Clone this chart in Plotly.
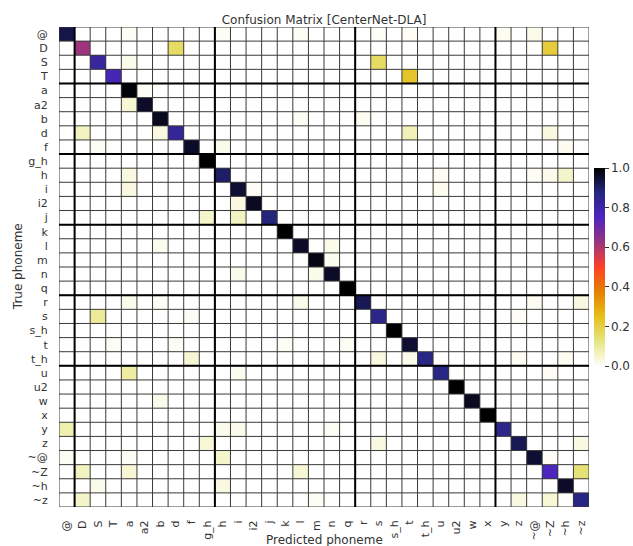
import plotly.graph_objects as go

labels = ["@", "D", "S", "T", "a", "a2", "b", "d", "f", "g_h", "h", "i", "i2", "j",
          "k", "l", "m", "n", "q", "r", "s", "s_h", "t", "t_h", "u", "u2", "w", "x",
          "y", "z", "~@", "~Z", "~h", "~z"]

diag_vals = [0.93, 0.62, 0.82, 0.77, 0.99, 0.96, 0.97, 0.83, 0.96, 1.0,
             0.90, 0.95, 0.97, 0.88, 1.0, 0.96, 0.98, 0.96, 1.0, 0.92,
             0.86, 1.0, 0.95, 0.87, 0.87, 1.0, 0.97, 1.0, 0.86, 0.92,
             0.95, 0.75, 0.96, 0.87]

# off-diagonal confusions: true label, predicted label, rate
off_true = ["@", "@", "@", "@", "@", "@", "@",
            "D", "D", "S", "S", "T", "a", "a2", "b", "b",
            "d", "d", "d", "d", "f", "f", "f",
            "h", "h", "h", "h", "h", "i", "i", "i", "i2", "j", "j",
            "l", "l", "m", "n", "n",
            "r", "r", "r", "r", "r", "s", "s", "s",
            "t", "t", "t", "t", "t_h", "t_h", "t_h", "t_h", "t_h",
            "u", "u", "u", "w", "y", "y", "y", "y", "z", "z", "z",
            "~@", "~@", "~@", "~@", "~Z", "~Z", "~Z", "~Z", "~h", "~h",
            "~z", "~z", "~z", "~z"]
off_pred = ["a", "h", "l", "s", "t", "y", "~@",
            "d", "~Z", "a", "s", "t", "a2", "a", "l", "r",
            "D", "b", "t", "~Z", "S", "h", "~h",
            "a", "u", "~@", "~Z", "~h", "a", "i2", "u", "i", "g_h", "i",
            "b", "n", "n", "i", "m",
            "a", "b", "l", "~@", "~z", "S", "f", "z",
            "T", "d", "k", "q", "f", "s", "t", "z", "~h",
            "a", "i", "~Z", "b", "@", "h", "i", "n", "g_h", "s", "~z",
            "@", "a", "h", "~Z", "D", "a", "l", "~z", "S", "h",
            "D", "m", "z", "~Z"]
off_vals = [0.01, 0.01, 0.01, 0.006, 0.01, 0.015, 0.02,
            0.16, 0.21, 0.02, 0.16, 0.23, 0.01, 0.04, 0.01, 0.015,
            0.06, 0.03, 0.07, 0.03, 0.01, 0.02, 0.015,
            0.03, 0.015, 0.01, 0.02, 0.05, 0.03, 0.01, 0.015, 0.03, 0.05, 0.06,
            0.015, 0.02, 0.015, 0.02, 0.02,
            0.02, 0.01, 0.02, 0.015, 0.03, 0.10, 0.01, 0.01,
            0.01, 0.01, 0.01, 0.01, 0.04, 0.03, 0.02, 0.015, 0.015,
            0.09, 0.015, 0.01, 0.02, 0.08, 0.02, 0.02, 0.01, 0.04, 0.03, 0.03,
            0.01, 0.01, 0.05, 0.01, 0.06, 0.04, 0.04, 0.14, 0.02, 0.03,
            0.05, 0.01, 0.03, 0.04]

row_groups = [4, 9, 14, 19, 24]      # thick horizontal separators
col_groups = [1, 10, 19, 28]         # thick vertical separators

n = len(labels)
idx = {lab: k for k, lab in enumerate(labels)}
z = [[0.0] * n for _ in range(n)]
for k in range(n):
    z[k][k] = diag_vals[k]
for t, p, v in zip(off_true, off_pred, off_vals):
    z[idx[t]][idx[p]] = v

cmr_r = [
    [0.0, "rgb(255,255,255)"],
    [0.125, "rgb(230,230,128)"],
    [0.25, "rgb(230,191,26)"],
    [0.375, "rgb(230,128,0)"],
    [0.5, "rgb(255,64,38)"],
    [0.625, "rgb(153,51,128)"],
    [0.75, "rgb(77,38,191)"],
    [0.875, "rgb(38,38,128)"],
    [1.0, "rgb(0,0,0)"],
]

font_family = "DejaVu Sans"
fig = go.Figure()
fig.add_trace(go.Heatmap(
    z=z, x=list(range(n)), y=list(range(n)),
    colorscale=cmr_r, zmin=0, zmax=1,
    colorbar=dict(
        x=1.0094, xanchor="left", xref="paper", xpad=0, ypad=0,
        y=0.5, yanchor="middle", len=0.4125, lenmode="fraction",
        thickness=11, outlinewidth=0,
        tickvals=[0, 0.2, 0.4, 0.6, 0.8, 1.0], tickformat=".1f",
        ticks="outside", ticklen=4, tickcolor="#333", tickwidth=1,
        tickfont=dict(family=font_family, size=12, color="#333"),
    ),
    hoverongaps=False,
))

shapes = []
for k in range(n + 1):
    pos = k - 0.5
    shapes.append(dict(type="line", xref="x", yref="y", x0=pos, x1=pos, y0=-0.5, y1=n - 0.5,
                       line=dict(color="#3a3a3a", width=1), layer="above"))
    shapes.append(dict(type="line", xref="x", yref="y", y0=pos, y1=pos, x0=-0.5, x1=n - 0.5,
                       line=dict(color="#3a3a3a", width=1), layer="above"))
for g in col_groups:
    shapes.append(dict(type="line", xref="x", yref="y", x0=g - 0.5, x1=g - 0.5, y0=-0.5, y1=n - 0.5,
                       line=dict(color="black", width=2), layer="above"))
for g in row_groups:
    shapes.append(dict(type="line", xref="x", yref="y", y0=g - 0.5, y1=g - 0.5, x0=-0.5, x1=n - 0.5,
                       line=dict(color="black", width=2), layer="above"))

fig.update_layout(
    width=633, height=546,
    margin=dict(l=59, r=44, t=27, b=39, pad=0, autoexpand=False),
    paper_bgcolor="white", plot_bgcolor="white",
    font=dict(family=font_family, size=11, color="#333"),
    shapes=shapes,
    title=dict(text="Confusion Matrix [CenterNet-DLA]", x=0.5, xref="paper", xanchor="center",
               y=1, yref="paper", yanchor="bottom", pad=dict(b=3),
               font=dict(family=font_family, size=12, color="#333")),
    xaxis=dict(tickvals=list(range(n)), ticktext=labels, tickangle=-90,
               range=[-0.5, n - 0.5], showgrid=False, zeroline=False,
               ticks="outside", ticklen=8, tickcolor="rgba(0,0,0,0)",
               tickfont=dict(family=font_family, size=11, color="#333")),
    yaxis=dict(tickvals=list(range(n)), ticktext=labels, autorange=False,
               range=[n - 0.5, -0.5], showgrid=False, zeroline=False,
               ticks="outside", ticklen=8, tickcolor="rgba(0,0,0,0)",
               tickfont=dict(family=font_family, size=11, color="#333")),
    annotations=[
        dict(text="True phoneme", xref="paper", yref="paper", x=-0.077, y=0.5,
             xanchor="center", yanchor="middle", textangle=-90, showarrow=False,
             font=dict(family=font_family, size=12, color="#333")),
        dict(text="Predicted phoneme", xref="paper", yref="paper", x=0.5, y=-0.069,
             xanchor="center", yanchor="middle", showarrow=False,
             font=dict(family=font_family, size=12, color="#333")),
    ],
)

fig.write_html("out.html")
